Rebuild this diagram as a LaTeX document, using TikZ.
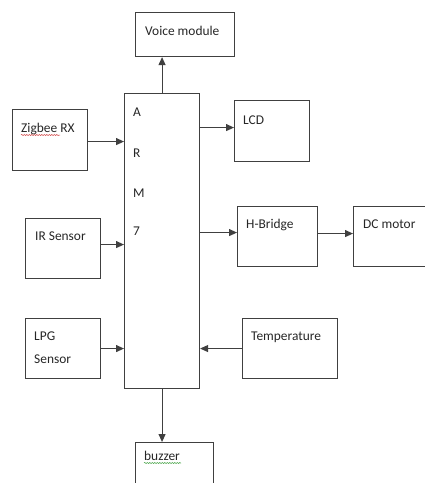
\documentclass[tikz,border=0pt]{standalone}
\usepackage{fontspec}
\setmainfont{Carlito}
\definecolor{linecolor}{HTML}{404040}
\definecolor{spellred}{HTML}{D04040}
\definecolor{spellgreen}{HTML}{40A040}
\usetikzlibrary{arrows.meta,decorations.pathmorphing}
\begin{document}
\begin{tikzpicture}[x=1pt,y=-1pt,font=\fontsize{13.4}{16}\selectfont,
 blk/.style={draw=linecolor,line width=1.1pt,inner sep=0,anchor=north west},
 txt/.style={anchor=base west,inner sep=0,text=black!85},
 conn/.style={draw=linecolor,line width=1.1pt,-{Triangle[length=8pt,width=7pt]}},
 squiggle/.style={line width=.5pt,decorate,decoration={snake,amplitude=.6pt,segment length=2.5pt}}]
\useasboundingbox(0,0) rectangle (425,483);
\begin{scope}
\clip(0,0) rectangle (425,483);
% blocks
\node[blk,minimum width=99,minimum height=44](voice) at (135,12){};
\node[blk,minimum width=75,minimum height=295](arm) at (124,93){};
\node[blk,minimum width=75,minimum height=61](zig) at (12,109){};
\node[blk,minimum width=75,minimum height=61](lcd) at (234,100){};
\node[blk,minimum width=75,minimum height=60](ir) at (25,218){};
\node[blk,minimum width=80,minimum height=60](hb) at (237,206){};
\node[blk,minimum width=80,minimum height=60](dc) at (353,206){};
\node[blk,minimum width=75,minimum height=60](lpg) at (25,318){};
\node[blk,minimum width=95,minimum height=60](temp) at (242,318){};
\node[blk,minimum width=78,minimum height=60](buzzer) at (135,442){};
% texts
\node[txt](voicetxt) at (145,35){Voice module};
\foreach \letter/\ypos [count=\i] in {A/116,R/157,M/197,7/235}{\node[txt](armtxt\i) at (133,\ypos){\letter};}
\node[txt](zigtxt) at (21,132){Zigbee RX};
\node[txt](lcdtxt) at (243,124){LCD};
\node[txt](irtxt) at (35,240){IR Sensor};
\node[txt](hbtxt) at (246,228){H-Bridge};
\node[txt](dctxt) at (363,228){DC motor};
\node[txt](lpgtxt) at (34,340){LPG};\node[txt](lpgtxtb) at (34,363){Sensor};
\node[txt](temptxt) at (251,340){Temperature};
\node[txt](buzzertxt) at (144,460){buzzer};
\draw[squiggle,spellred]([yshift=-3pt]zigtxt.base west)--++(39,0);
\draw[squiggle,spellgreen]([yshift=-3pt]buzzertxt.base west)--++(37,0);
% connectors
\draw[conn](arm.north)--(arm.north|-voice.south);
\draw[conn](arm.south)--(arm.south|-buzzer.north);
\draw[conn]([yshift=-1.5pt]zig.east)--([yshift=-1.5pt]zig.east-|arm.west);
\draw[conn]([yshift=3.5pt]lcd.west-|arm.east)--([yshift=3.5pt]lcd.west);
\draw[conn]([yshift=4pt]ir.east)--([yshift=4pt]ir.east-|arm.west);
\draw[conn]([yshift=4pt]hb.west-|arm.east)--([yshift=4pt]hb.west);
\draw[conn]([yshift=3pt]hb.east)--([yshift=3pt]dc.west);
\draw[conn](lpg.east)--(lpg.east-|arm.west);
\draw[conn](temp.west)--(temp.west-|arm.east);
\end{scope}
\end{tikzpicture}
\end{document}
